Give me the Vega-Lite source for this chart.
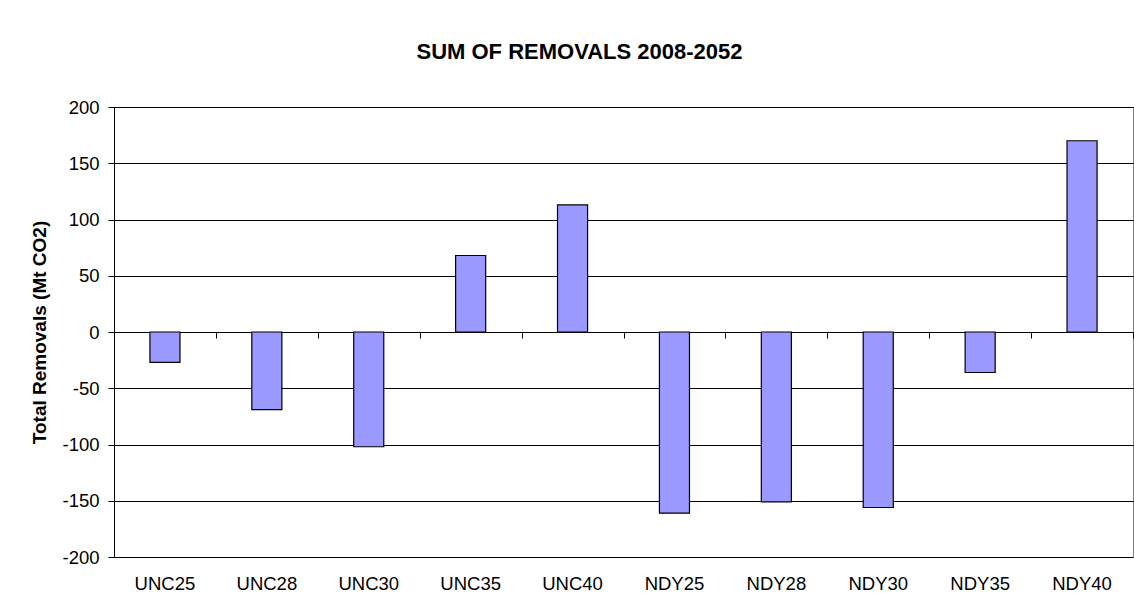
{
  "$schema": "https://vega.github.io/schema/vega-lite/v6.json",
  "width": 1019,
  "height": 450,
  "autosize": {"type": "none"},
  "padding": {"left": 114, "top": 107, "right": 1, "bottom": 57},
  "background": "white",
  "title": {
    "text": "SUM OF REMOVALS 2008-2052",
    "font": "Liberation Sans",
    "fontSize": 22,
    "fontWeight": "bold",
    "color": "black",
    "anchor": "middle",
    "frame": "group",
    "dx": -44,
    "offset": 17,
    "baseline": "alphabetic"
  },
  "config": {
    "view": {"stroke": "#808080", "strokeWidth": 1},
    "axis": {"labelFont": "Liberation Sans", "titleFont": "Liberation Sans", "labelColor": "black", "titleColor": "black"}
  },
  "data": {
    "values": [
      {"scenario": "UNC25", "removals": -27},
      {"scenario": "UNC28", "removals": -69},
      {"scenario": "UNC30", "removals": -102},
      {"scenario": "UNC35", "removals": 68},
      {"scenario": "UNC40", "removals": 113},
      {"scenario": "NDY25", "removals": -161},
      {"scenario": "NDY28", "removals": -151},
      {"scenario": "NDY30", "removals": -156},
      {"scenario": "NDY35", "removals": -36},
      {"scenario": "NDY40", "removals": 170}
    ]
  },
  "layer": [
    {
      "mark": {"type": "bar", "fill": "#9999FF", "stroke": "black", "strokeWidth": 1.2, "width": {"band": 0.295}},
      "encoding": {
        "x": {
          "field": "scenario",
          "type": "nominal",
          "sort": null,
          "scale": {"paddingInner": 0, "paddingOuter": 0},
          "axis": {
            "title": null,
            "labelAngle": 0,
            "labelFontSize": 18.5,
            "labelPadding": 17,
            "ticks": false,
            "domain": false,
            "grid": false
          }
        },
        "y": {
          "field": "removals",
          "type": "quantitative",
          "scale": {"domain": [-200, 200], "nice": false},
          "axis": {
            "title": "Total Removals (Mt CO2)",
            "titleFontSize": 19,
            "titleFontWeight": "bold",
            "titlePadding": 12,
            "values": [-200, -150, -100, -50, 0, 50, 100, 150, 200],
            "labelExpr": "'' + datum.value",
            "labelFontSize": 18.5,
            "tickSize": 6,
            "tickColor": "black",
            "labelPadding": 9,
            "domainColor": "black",
            "gridColor": "black",
            "gridWidth": 1,
            "gridOpacity": 1
          }
        }
      }
    },
    {
      "mark": {"type": "rule", "opacity": 0},
      "encoding": {
        "x": {
          "field": "scenario",
          "type": "nominal",
          "sort": null,
          "axis": {
            "orient": "bottom",
            "offset": -225,
            "title": null,
            "labels": false,
            "ticks": true,
            "tickBand": "extent",
            "tickSize": 6,
            "tickColor": "black",
            "domain": true,
            "domainColor": "black",
            "grid": false
          }
        }
      }
    }
  ],
  "resolve": {"axis": {"x": "independent"}}
}
